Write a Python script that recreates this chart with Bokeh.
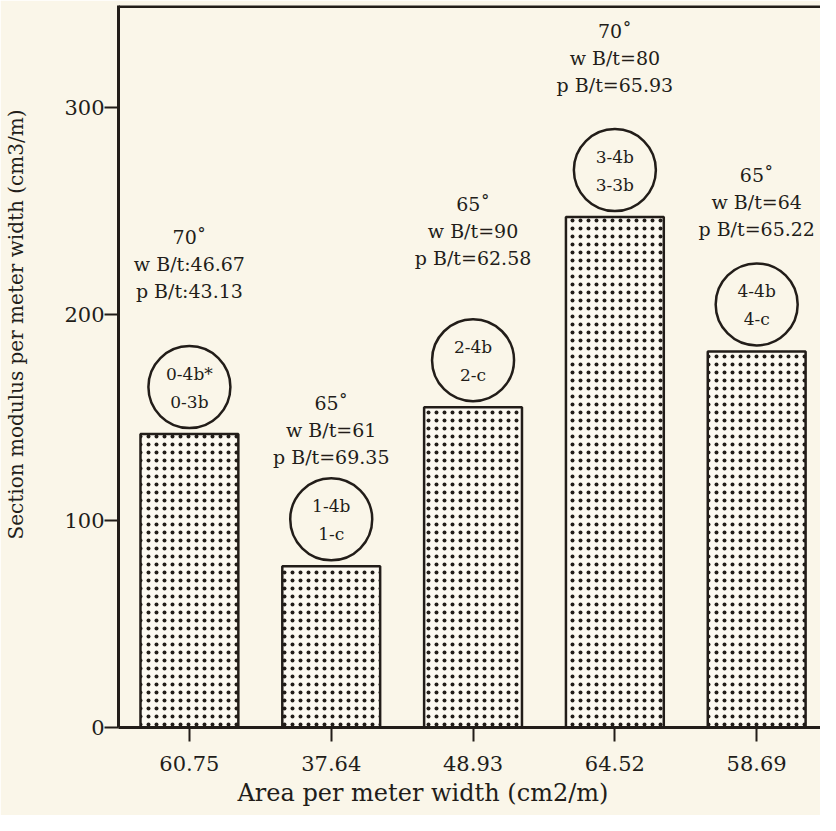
from bokeh.plotting import figure
from bokeh.models import Range1d, FixedTicker, Span, ColumnDataSource, Title
from bokeh.core.properties import value
from bokeh.embed import file_html
from bokeh.resources import INLINE

# ---- data ----
areas = ["60.75", "37.64", "48.93", "64.52", "58.69"]
modulus = [142, 78, 155, 247, 182]
code_top = ["0-4b*", "1-4b", "2-4b", "3-4b", "4-4b"]
code_bottom = ["0-3b", "1-c", "2-c", "3-3b", "4-c"]
angles = ["70\u02da", "65\u02da", "65\u02da", "70\u02da", "65\u02da"]
w_bt = ["w B/t:46.67", "w B/t=61", "w B/t=90", "w B/t=80", "w B/t=64"]
p_bt = ["p B/t:43.13", "p B/t=69.35", "p B/t=62.58", "p B/t=65.93", "p B/t=65.22"]
note_level = [211, 131, 227, 311, 241]   # height (y units) of the lowest note line
y_ticks = [0, 100, 200, 300]
x_title = "Area per meter width (cm2/m)"
y_title = "Section modulus per meter width (cm3/m)"

BG = "#faf6e9"
INK = "#221d19"
FONT = "DejaVu Serif"

X_START, X_END = -0.5, 4.45
Y_END = 349.4
FRAME_H = 722
px_y = FRAME_H / Y_END

xs = list(range(len(areas)))
src = ColumnDataSource(dict(
    x=xs, top=modulus, circ=[v + 47 / px_y for v in modulus],
    ct=code_top, cb=code_bottom, ang=angles, w=w_bt, pp=p_bt, nl=note_level,
))

p = figure(width=820, height=815, output_backend="svg", toolbar_location=None,
           x_range=Range1d(X_START, X_END), y_range=Range1d(0, Y_END),
           min_border_left=118, min_border_right=0, min_border_top=5,
           min_border_bottom=88)
p.background_fill_color = BG
p.border_fill_color = BG
p.outline_line_color = None
p.xgrid.visible = False
p.ygrid.visible = False

p.vbar(x="x", top="top", width=0.69, source=src, fill_color="#fcf9f1",
       line_color=INK, line_width=2.5, hatch_pattern="dot",
       hatch_color=INK, hatch_scale=8, hatch_weight=1.0)

p.scatter(x="x", y="circ", source=src, marker="circle", size=82,
          fill_color=None, line_color=INK, line_width=2.5)

common = dict(text_font=value(FONT), text_color=INK, text_align="center",
              text_baseline="middle")
p.text(x="x", y="circ", text="ct", y_offset=-13, text_font_size="17px",
       source=src, **common)
p.text(x="x", y="circ", text="cb", y_offset=15, text_font_size="17px",
       source=src, **common)

p.text(x="x", y="nl", text="pp", text_font_size="19px", source=src, **common)
p.text(x="x", y="nl", text="w", y_offset=-27, text_font_size="19px",
       source=src, **common)
p.text(x="x", y="nl", text="ang", y_offset=-54, text_font_size="19px",
       source=src, **common)

p.add_layout(Span(location=Y_END, dimension="width", line_color=INK,
                  line_width=5))

# axes
for ax in (p.xaxis[0], p.yaxis[0]):
    ax.axis_line_color = INK
    ax.axis_line_width = 3
    ax.major_tick_line_color = INK
    ax.major_tick_line_width = 2
    ax.major_tick_in = 0
    ax.minor_tick_line_color = None
    ax.major_label_text_font = FONT
    ax.major_label_text_font_size = "21px"
    ax.major_label_text_color = INK

p.yaxis.ticker = FixedTicker(ticks=y_ticks)
p.yaxis.major_tick_out = 14
p.yaxis.major_label_standoff = 0
# invisible axis label, used only as a gap before the off-centre title
p.yaxis.axis_label = "."
p.yaxis.axis_label_text_alpha = 0
p.yaxis.axis_label_text_font_size = "1px"
p.yaxis.axis_label_standoff = 30

p.xaxis.ticker = FixedTicker(ticks=xs)
p.xaxis.major_label_overrides = {i: a for i, a in enumerate(areas)}
p.xaxis.major_tick_out = 14
p.xaxis.major_label_standoff = 14

# axis titles (off-centre as in the original)
p.add_layout(Title(text=x_title, align="left", offset=119, standoff=6,
                   text_font=FONT, text_font_size="24px",
                   text_font_style="normal", text_color=INK), "below")
p.add_layout(Title(text=y_title, align="left", offset=188, standoff=0,
                   text_font=FONT, text_font_size="20px",
                   text_font_style="normal", text_color=INK), "left")

open("out.html", "w").write(file_html(p, INLINE))
